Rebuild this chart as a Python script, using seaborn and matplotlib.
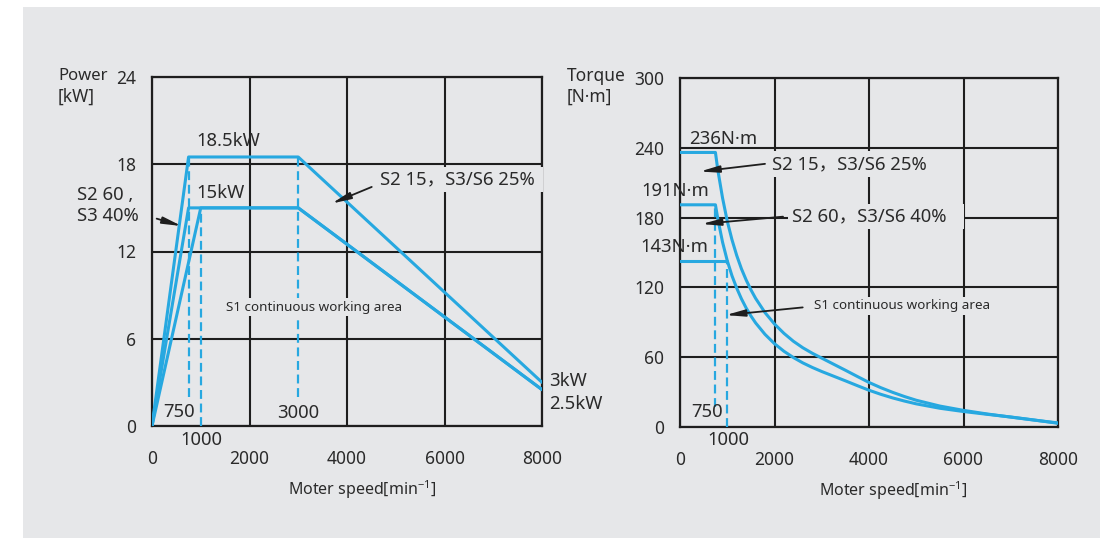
import matplotlib
matplotlib.use("Agg")
import matplotlib.pyplot as plt
import numpy as np
import pandas as pd
import seaborn as sns
from matplotlib.patches import Rectangle

# ---- power characteristic (speed in min^-1, power in kW) ----
power_speed_s2_15 = [0, 750, 3000, 8000]
power_s2_15 = [0, 18.5, 18.5, 3.0]
power_speed_s2_60 = [0, 750, 3000, 8000]
power_s2_60 = [0, 15.0, 15.0, 2.5]
power_speed_s1 = [0, 1000, 3000, 8000]
power_s1 = [0, 15.0, 15.0, 2.5]

# ---- torque characteristic (speed in min^-1, torque in N·m) ----
torque_speed = [0, 750, 800, 900, 1000, 1100, 1200, 1300, 1400, 1500, 1600, 1800,
                2000, 2200, 2400, 2600, 2800, 3000, 3250, 3500, 3750, 4000, 4250,
                4500, 4750, 5000, 5500, 6000, 6500, 7000, 7500, 8000]
torque_s2_15 = [236, 236, 221, 197, 177, 161, 147.5, 136, 126.4, 118, 110.6, 98.3,
                88.5, 80.5, 73.7, 68.1, 63.4, 59.2, 54, 48.8, 43.5, 38.3, 33.8,
                29.8, 26.2, 23, 18, 14.3, 11.2, 8.5, 5.9, 3.5]
torque_s2_60 = [191, 191, 179, 159, 143, 130, 119.4, 110.2, 102.3, 95.5, 89.5, 79.6,
                71.6, 65.1, 59.7, 55.1, 51.2, 47.7, 43.7, 39.7, 35.6, 31.6, 28.1,
                25, 22.3, 19.9, 16.1, 13.3, 10.9, 8.6, 6.0, 3.2]
torque_speed_s1 = [0, 1000]
torque_s1 = [143, 143]

# ---- reference speeds marked with dashed lines ----
power_mark_speed = [750, 1000, 3000]
power_mark_top = [18.5, 15.0, 18.5]
power_mark_bottom = [2.0, 0.0, 2.0]
torque_mark_speed = [750, 1000]
torque_mark_top = [191, 143]
torque_mark_bottom = [17, 0]

x_ticks = [0, 2000, 4000, 6000, 8000]
power_ticks = [0, 6, 12, 18, 24]
torque_ticks = [0, 60, 120, 180, 240, 300]

BLUE = "#27a8e0"
INK = "#1e1e1e"
PANEL = "#e6e7e9"
TEXT = "#2a2a2a"
FONT = ["Noto Sans", "Noto Sans CJK SC", "DejaVu Sans"]

sns.set_theme(style="white")
plt.rcParams["font.family"] = FONT
plt.rcParams["axes.unicode_minus"] = False

power_df = pd.concat([
    pd.DataFrame({"speed": power_speed_s2_15, "value": power_s2_15, "mode": "S2 15"}),
    pd.DataFrame({"speed": power_speed_s2_60, "value": power_s2_60, "mode": "S2 60"}),
    pd.DataFrame({"speed": power_speed_s1, "value": power_s1, "mode": "S1"}),
], ignore_index=True)
torque_df = pd.concat([
    pd.DataFrame({"speed": torque_speed, "value": torque_s2_15, "mode": "S2 15"}),
    pd.DataFrame({"speed": torque_speed, "value": torque_s2_60, "mode": "S2 60"}),
    pd.DataFrame({"speed": torque_speed_s1, "value": torque_s1, "mode": "S1"}),
], ignore_index=True)

W, H = 1109, 538
fig = plt.figure(figsize=(W / 100, H / 100), dpi=100, facecolor="white")
fig.patches.append(Rectangle((23 / W, 0), 1077 / W, 1 - 7 / H, transform=fig.transFigure,
                             facecolor=PANEL, edgecolor="none", zorder=-10))

ax1 = fig.add_axes([152 / W, 1 - 426 / H, 390 / W, 349 / H])
ax2 = fig.add_axes([680 / W, 1 - 427 / H, 378 / W, 349 / H])

palette = {"S2 15": BLUE, "S2 60": BLUE, "S1": BLUE}
sns.lineplot(data=power_df, x="speed", y="value", hue="mode", palette=palette,
             estimator=None, sort=False, legend=False, lw=2.2, ax=ax1, zorder=3)
sns.lineplot(data=torque_df, x="speed", y="value", hue="mode", palette=palette,
             estimator=None, sort=False, legend=False, lw=2.2, ax=ax2, zorder=3)

ax1.vlines(power_mark_speed, power_mark_bottom, power_mark_top, colors=BLUE,
           linestyles=(0, (4, 2.1)), lw=1.6, zorder=2.8)
ax2.vlines(torque_mark_speed, torque_mark_bottom, torque_mark_top, colors=BLUE,
           linestyles=(0, (4, 2.1)), lw=1.6, zorder=2.8)

label_x = {ax1: 0.538, ax2: 0.563}
for ax, yt, ymax in ((ax1, power_ticks, 24), (ax2, torque_ticks, 300)):
    ax.set_facecolor("none")
    ax.set_xlim(0, 8000)
    ax.set_ylim(0, ymax)
    ax.set_xticks(x_ticks)
    ax.set_yticks(yt)
    ax.grid(True, color=INK, lw=1.5, zorder=1)
    ax.set_axisbelow(True)
    for s in ax.spines.values():
        s.set_color(INK)
        s.set_linewidth(1.6)
        s.set_visible(True)
    ax.tick_params(axis="x", length=0, pad=17, labelsize=12.5, colors=TEXT)
    ax.tick_params(axis="y", length=0, pad=11.5, labelsize=12.5, colors=TEXT)
    ax.set_xlabel("Moter speed[min$^{\\mathregular{-1}}$]", fontsize=11.5, color=TEXT,
                  labelpad=7.5)
    ax.xaxis.label.set_x(label_x[ax])
    ax.set_ylabel("")

txt = dict(color=TEXT, fontsize=13.3)
box = dict(boxstyle="square,pad=0.2", facecolor=PANEL, edgecolor="none")
arrow = dict(arrowstyle="-|>,head_length=0.95,head_width=0.17", color=INK, lw=1.3,
             shrinkA=0, shrinkB=0, mutation_scale=12)

# axis titles
fig.text(58 / W, 1 - 76 / H, "Power", ha="left", va="center", color=TEXT, fontsize=12)
fig.text(58 / W, 1 - 97 / H, "[kW]", ha="left", va="center", color=TEXT, fontsize=12.5)
fig.text(567 / W, 1 - 76 / H, "Torque", ha="left", va="center", color=TEXT, fontsize=12.5)
fig.text(567 / W, 1 - 97 / H, "[N·m]", ha="left", va="center", color=TEXT, fontsize=12.5)

# ---- power chart labels ----
ax1.text(1560, 19.6, "18.5kW", ha="center", va="center", **txt)
ax1.text(1405, 16.0, "15kW", ha="center", va="center", **txt)
ax1.text(550, 0.95, "750", ha="center", va="center", **txt)
ax1.text(2990, 0.9, "3000", ha="center", va="center", **txt)
ax1.text(1005, -0.98, "1000", ha="center", va="center", clip_on=False, **txt)
ax1.text(8140, 3.1, "3kW", ha="left", va="center", clip_on=False, **txt)
ax1.text(8140, 1.5, "2.5kW", ha="left", va="center", clip_on=False, **txt)
ax1.text(4677, 16.97, "S2 15，S3/S6 25% ", ha="left", va="center", clip_on=False,
         bbox=box, zorder=6, **txt)
ax1.annotate("", xy=(3686, 15.3), xytext=(4507, 16.44), arrowprops=arrow, zorder=6)
ax1.text(-1538, 15.18, "S2 60 ,\nS3 40%", ha="left", va="center", clip_on=False,
         linespacing=1.2, bbox=box, zorder=6, **txt)
ax1.annotate("", xy=(609, 13.75), xytext=(96, 14.26), arrowprops=arrow, zorder=6,
             annotation_clip=False)
ax1.text(1518, 8.18, "S1 continuous working area", ha="left", va="center",
         color=TEXT, fontsize=9.7, bbox=box, zorder=6)

# ---- torque chart labels ----
ax2.text(920, 247.7, "236N·m", ha="center", va="center", **txt)
ax2.text(614, 203, "191N·m", ha="right", va="center", clip_on=False, **txt)
ax2.text(600, 155, "143N·m", ha="right", va="center", clip_on=False, **txt)
ax2.text(565, 12.7, "750", ha="center", va="center", **txt)
ax2.text(1016, -11.5, "1000", ha="center", va="center", clip_on=False, **txt)
ax2.text(1947, 226.2, "S2 15，S3/S6 25%", ha="left", va="center", bbox=box, zorder=6, **txt)
ax2.annotate("", xy=(423, 219.6), xytext=(1799, 226.2), arrowprops=arrow, zorder=6)
ax2.text(2370, 180.8, "S2 60，S3/S6 40%   ", ha="left", va="center", bbox=box, zorder=6, **txt)
ax2.annotate("", xy=(459, 174.5), xytext=(2180, 180.8), arrowprops=arrow, zorder=6)
ax2.text(2836, 104.2, "S1 continuous working area", ha="left", va="center",
         color=TEXT, fontsize=9.7, bbox=box, zorder=6)
ax2.annotate("", xy=(967, 96.2), xytext=(2597, 102.8), arrowprops=arrow, zorder=6)

fig.savefig("out.png", dpi=100, facecolor="white")
